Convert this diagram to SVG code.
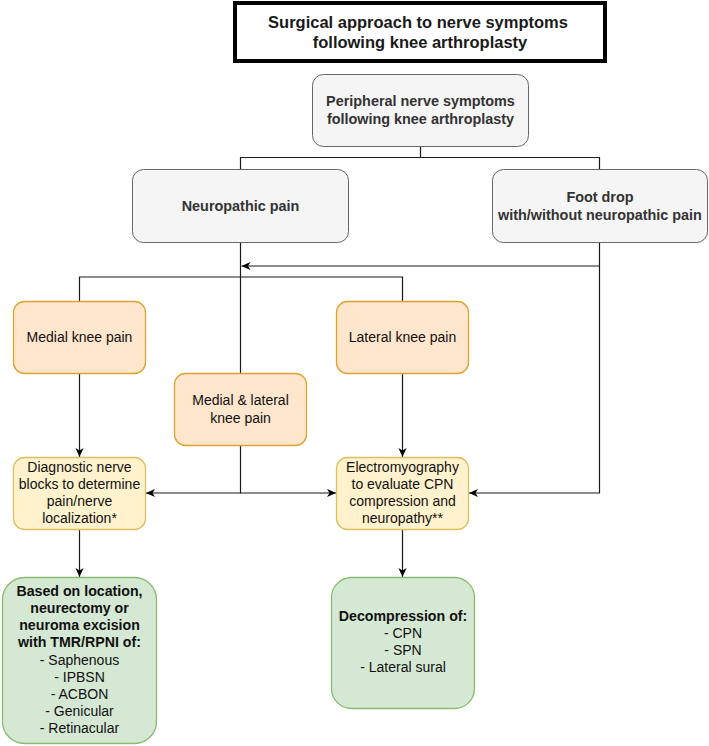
<svg xmlns="http://www.w3.org/2000/svg" width="709" height="746" viewBox="0 0 709 746">
<defs>
<style>
text{font-family:"Liberation Sans",Arial,sans-serif;text-anchor:middle}
.b{font-weight:bold}
.t{font-size:16.5px;fill:#1a1a1a;font-weight:bold}
.g{font-size:14.4px;fill:#333333;font-weight:bold}
.r{font-size:14px;fill:#111}
.rb{font-size:14.2px;fill:#111;font-weight:bold}
.gray{fill:#f5f5f5;stroke:#666666;stroke-width:1}
.or{fill:#ffe6cc;stroke:#e0a22f;stroke-width:1.3}
.ye{fill:#fff2cc;stroke:#dcc060;stroke-width:1.3}
.gr{fill:#d5e8d4;stroke:#88bb6c;stroke-width:1.3}
.ln{fill:none;stroke:#1a1a1a;stroke-width:1.2}
</style>
<marker id="ah" viewBox="0 0 10 10" refX="10" refY="5" markerWidth="9" markerHeight="9" markerUnits="userSpaceOnUse" orient="auto">
<path d="M0,0.5 L10,5 L0,9.5 L2.8,5 Z" fill="#000"/>
</marker>
</defs>
<rect width="709" height="746" fill="#ffffff"/>

<g id="connectors">
<path class="ln" d="M420.5,146 V157.5 M240.5,169 V157.5 H599.5 V169"/>
<path class="ln" d="M599.5,242 V266 H241.5" marker-end="url(#ah)"/>
<path class="ln" d="M599.5,266 V493 H469" marker-end="url(#ah)"/>
<path class="ln" d="M240.5,242 V373 M79.5,301 V277 H402.5 V301"/>
<path class="ln" d="M79.5,373 V457" marker-end="url(#ah)"/>
<path class="ln" d="M402.5,373 V457" marker-end="url(#ah)"/>
<path class="ln" d="M240.5,446 V493 H146" marker-end="url(#ah)"/>
<path class="ln" d="M240.5,493 H336" marker-end="url(#ah)"/>
<path class="ln" d="M79.5,529 V577" marker-end="url(#ah)"/>
<path class="ln" d="M402.5,529 V577" marker-end="url(#ah)"/>
</g>

<g id="title">
<rect x="235" y="3" width="370" height="58" fill="#ffffff" stroke="#000" stroke-width="4"/>
<text class="t" x="418" y="28">Surgical approach to nerve symptoms</text>
<text class="t" x="420" y="48">following knee arthroplasty</text>
</g>

<g id="peripheral">
<rect class="gray" x="312.5" y="74.5" width="216" height="72" rx="11"/>
<text class="g" x="420.5" y="105.5">Peripheral nerve symptoms</text>
<text class="g" x="420.5" y="123.5">following knee arthroplasty</text>
</g>

<g id="neuropathic">
<rect class="gray" x="132.5" y="169.5" width="216" height="73" rx="11"/>
<text class="g" x="240.5" y="210.5">Neuropathic pain</text>
</g>

<g id="footdrop">
<rect class="gray" x="492.5" y="169.5" width="215" height="73" rx="11"/>
<text class="g" x="600" y="201.5">Foot drop</text>
<text class="g" x="600" y="219.5">with/without neuropathic pain</text>
</g>

<g id="medial">
<rect class="or" x="13.5" y="301.5" width="132" height="72" rx="11"/>
<text class="r" x="79.5" y="342">Medial knee pain</text>
</g>

<g id="lateral">
<rect class="or" x="336.5" y="301.5" width="132" height="72" rx="11"/>
<text class="r" x="402.5" y="342">Lateral knee pain</text>
</g>

<g id="mediallateral">
<rect class="or" x="174.5" y="373.5" width="132" height="72" rx="11"/>
<text class="r" x="240.5" y="405">Medial &amp; lateral</text>
<text class="r" x="240.5" y="423">knee pain</text>
</g>

<g id="diagnostic">
<rect class="ye" x="13.5" y="457.5" width="132" height="72" rx="11"/>
<text class="r" x="79.5" y="472">Diagnostic nerve</text>
<text class="r" x="79.5" y="489">blocks to determine</text>
<text class="r" x="79.5" y="506">pain/nerve</text>
<text class="r" x="79.5" y="523">localization*</text>
</g>

<g id="emg">
<rect class="ye" x="336.5" y="457.5" width="132" height="72" rx="11"/>
<text class="r" x="402.5" y="472">Electromyography</text>
<text class="r" x="402.5" y="489">to evaluate CPN</text>
<text class="r" x="402.5" y="506">compression and</text>
<text class="r" x="402.5" y="523">neuropathy**</text>
</g>

<g id="neurectomy">
<rect class="gr" x="2.5" y="577.5" width="154" height="166" rx="22"/>
<text class="rb" x="79.5" y="596">Based on location,</text>
<text class="rb" x="79.5" y="613">neurectomy or</text>
<text class="rb" x="79.5" y="630">neuroma excision</text>
<text class="rb" x="79.5" y="647">with TMR/RPNI of:</text>
<text class="r" x="79.5" y="664.5">- Saphenous</text>
<text class="r" x="79.5" y="681.5">- IPBSN</text>
<text class="r" x="79.5" y="698.5">- ACBON</text>
<text class="r" x="79.5" y="716">- Genicular</text>
<text class="r" x="79.5" y="733">- Retinacular</text>
</g>

<g id="decompression">
<rect class="gr" x="331.5" y="577.5" width="143" height="131" rx="20"/>
<text class="rb" x="403" y="621">Decompression of:</text>
<text class="r" x="403" y="638">- CPN</text>
<text class="r" x="403" y="655">- SPN</text>
<text class="r" x="403" y="672">- Lateral sural</text>
</g>
</svg>
